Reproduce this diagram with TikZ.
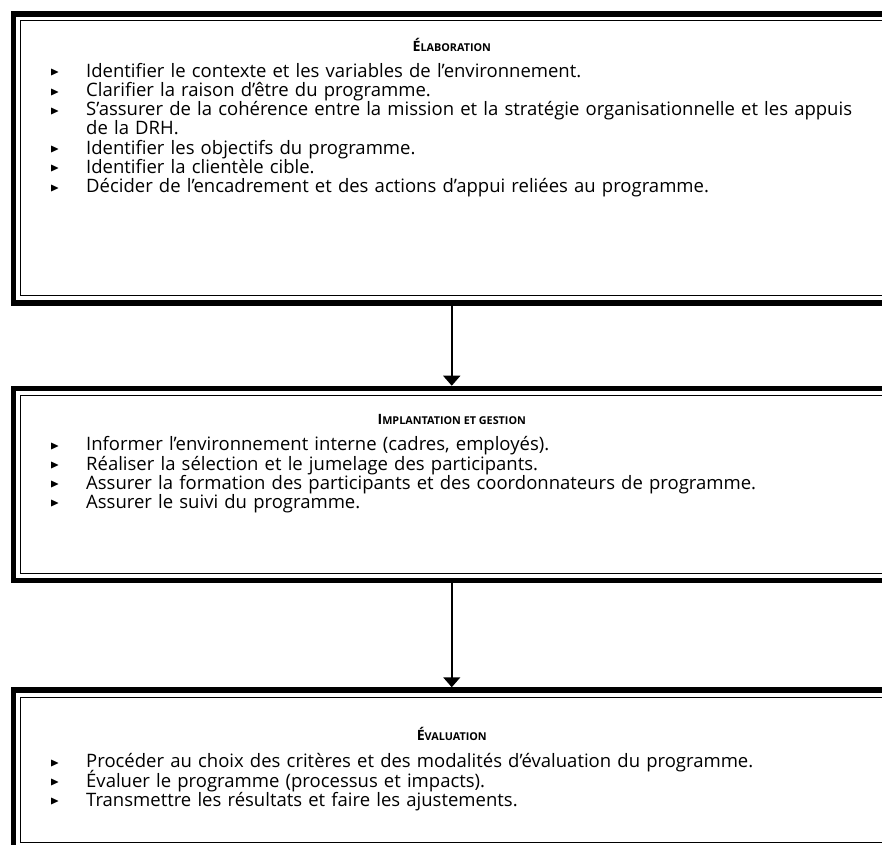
\documentclass[tikz,border=0pt]{standalone}
\usepackage{amssymb}
\usepackage{fontspec}
\setmainfont{Open Sans}
\usetikzlibrary{arrows.meta}

\newcommand{\puce}{\par\lineskiplimit=-20pt\relax\noindent\hangindent=36pt\hangafter=1\makebox[36pt][l]{\raisebox{1.5pt}{\fontsize{12}{12}\selectfont$\blacktriangleright$}}}
\newcommand{\titre}[2]{{\bfseries\fontsize{14.2}{14}\selectfont #1\fontsize{10.8}{12}\selectfont #2}}

\tikzset{
    stagebox/.style={draw, line width=5.5pt, inner sep=0pt, outer sep=0pt, minimum width=876.5pt},
    innerline/.style={line width=1pt},
    heading/.style={inner sep=0pt},
    itemlist/.style={anchor=north west, align=left, text width=815pt, inner sep=0pt, font=\fontsize{18.5}{19.2}\selectfont},
    flow/.style={line width=1.6pt, -{Triangle[width=17pt,length=10pt]}, shorten <=2.75pt, shorten >=2.75pt}
}

\begin{document}
\begin{tikzpicture}[x=1pt,y=1pt]
    \clip (0,0) rectangle (882,844);
    % three stages
    \node[stagebox, minimum height=289.2pt] (elab) at (451.75,685.6) {};
    \node[stagebox, minimum height=192pt] (impl) at (451.75,359.5) {};
    \node[stagebox, minimum height=159pt] (eval) at (451.75,74.5) {};
    \foreach \b in {elab,impl,eval}
        \draw[innerline] ([shift={(7,-7)}]\b.north west) rectangle ([shift={(-7,7)}]\b.south east);

    \node[heading] (elabtitle) at (451.75,799) {\titre{É}{LABORATION}};
    \node[itemlist] (elablist) at (50,786) {%
        \puce Identifier le contexte et les variables de l’environnement.
        \puce Clarifier la raison d’être du programme.
        \puce S’assurer de la cohérence entre la mission et la stratégie organisationnelle et les appuis\break de la DRH.
        \puce Identifier les objectifs du programme.
        \puce Identifier la clientèle cible.
        \puce Décider de l’encadrement et des actions d’appui reliées au programme.};

    \node[heading] (impltitle) at (451.75,425) {\titre{I}{MPLANTATION ET GESTION}};
    \node[itemlist] (impllist) at (50,412.5) {%
        \puce Informer l’environnement interne (cadres, employés).
        \puce Réaliser la sélection et le jumelage des participants.
        \puce Assurer la formation des participants et des coordonnateurs de programme.
        \puce Assurer le suivi du programme.};

    \node[heading] (evaltitle) at (451.75,110) {\titre{É}{VALUATION}};
    \node[itemlist] (evallist) at (50,95.5) {%
        \puce Procéder au choix des critères et des modalités d’évaluation du programme.
        \puce Évaluer le programme (processus et impacts).
        \puce Transmettre les résultats et faire les ajustements.};

    \draw[flow] (elab) -- (impl);
    \draw[flow] (impl) -- (eval);
\end{tikzpicture}
\end{document}
